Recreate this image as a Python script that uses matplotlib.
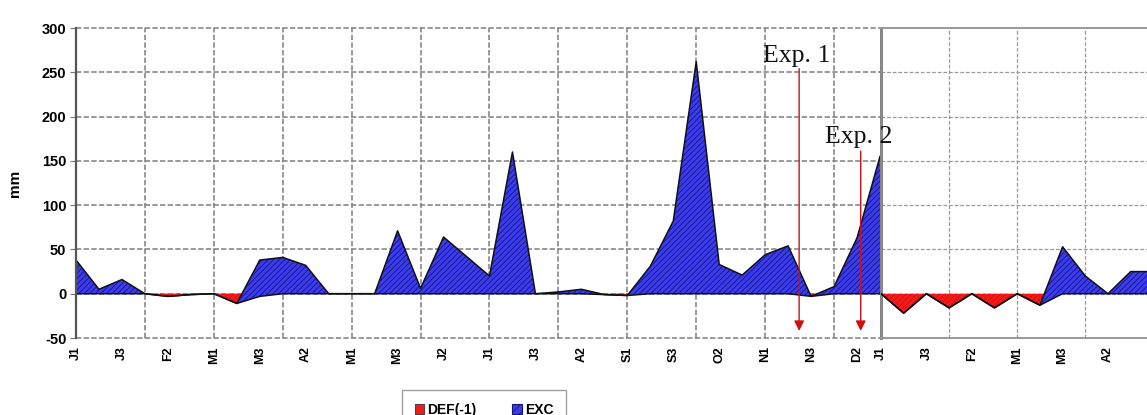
import matplotlib
matplotlib.use('Agg')
import matplotlib.pyplot as plt
import numpy as np
from matplotlib.patches import Patch

# ---- data (10-day periods) ----
decades_left = ['J1', 'J2', 'J3', 'F1', 'F2', 'F3', 'M1', 'M2', 'M3', 'A1', 'A2', 'A3',
                'M1', 'M2', 'M3', 'J1', 'J2', 'J3', 'J1', 'J2', 'J3', 'A1', 'A2', 'A3',
                'S1', 'S2', 'S3', 'O1', 'O2', 'O3', 'N1', 'N2', 'N3', 'D1', 'D2', 'D3']
exc_left = [38, 5, 16, 0, 0, 0, 0, 0, 41, 41, 32, 0, 0, 0, 71, 6, 64, 42,
            20, 160, 0, 2, 5, 0, 0, 31, 82, 262, 33, 21, 44, 54, 0, 8, 63, 155]
def_left = [0, 0, 0, 0, -3, -1, 0, -11, -3, 0, 0, 0, 0, 0, 0, 0, 0, 0,
            0, 0, 0, 0, 0, -1, -2, 0, 0, 0, 0, 0, 0, 0, -3, 0, 0, 0]

decades_right = ['J1', 'J2', 'J3', 'F1', 'F2', 'F3', 'M1', 'M2', 'M3', 'A1', 'A2', 'A3', 'M1']
exc_right = [0, 0, 0, 0, 0, 0, 0, 0, 53, 20, 0, 25, 25]
def_right = [0, -22, 0, -16, 0, -16, 0, -13, 0, 0, 0, 0, 0]

yticks = [-50, 0, 50, 100, 150, 200, 250, 300]
series_names = ['DEF(-1)', 'EXC']
exp_labels = ['Exp. 1', 'Exp. 2']
exp_pos = [31.48, 34.16]
exp_top = [254, 161]
exp_text_y = [262, 170]

BLUE = '#3b3bf0'
NAVY = '#15157a'
RED = '#f51a1a'
DRED = '#d01010'

plt.rcParams['font.family'] = ['Liberation Sans', 'DejaVu Sans']
plt.rcParams['hatch.linewidth'] = 0.6

W, H = 1147, 415
fig = plt.figure(figsize=(W / 100, H / 100), dpi=100)

axL = fig.add_axes([76 / W, (H - 338) / H, (880 - 76) / W, 310 / H])
axR = fig.add_axes([881 / W, (H - 338) / H, (W - 881) / W, 310 / H])
axL.set_zorder(2)
axR.set_zorder(1)
axL.patch.set_visible(False)


def draw(ax, exc, dfc):
    x = np.arange(len(exc))
    exc = np.array(exc, float)
    dfc = np.array(dfc, float)
    top = dfc + exc
    ax.fill_between(x, 0, dfc, facecolor=RED, edgecolor=DRED, hatch='//////', lw=0, zorder=2)
    ax.fill_between(x, dfc, top, facecolor=BLUE, edgecolor=NAVY, hatch='//////', lw=0, zorder=3)
    ax.plot(x, dfc, color='#111111', lw=1.1, zorder=4)
    ax.plot(x, top, color='#111111', lw=1.1, zorder=4)


GRID = dict(color='#7e7e7e', lw=1.1, linestyle=(0, (3.5, 1.5)), zorder=1)
GRID_R = dict(color='#9a9a9a', lw=0.9, linestyle=(0, (3, 1.5)), zorder=1)

# left axes
axL.set_xlim(0, len(decades_left) - 1)
axL.set_ylim(-50, 300)
for y in yticks:
    axL.axhline(y, clip_on=False, **GRID)
for xv in range(3, len(decades_left), 3):
    axL.axvline(xv, **GRID)
draw(axL, exc_left, def_left)
for s in ['top', 'bottom', 'right']:
    axL.spines[s].set_visible(False)
axL.spines['left'].set_color('#555555')
axL.spines['left'].set_linewidth(1.6)
axL.spines['left'].set_zorder(5)
axL.set_yticks(yticks)
axL.set_yticklabels([str(v) for v in yticks], fontsize=10.5, fontweight='bold')
axL.tick_params(axis='y', length=4, color='#777777', pad=3)
xt = list(range(0, len(decades_left), 2))
axL.set_xticks(xt)
axL.set_xticklabels([decades_left[i] for i in xt], rotation=90, fontsize=9,
                    fontweight='bold')
axL.tick_params(axis='x', length=0, pad=6)
axL.set_ylabel('mm', fontsize=11, fontweight='bold', labelpad=14)

# right axes
axR.set_xlim(0, (W - 881) / 22.7)
axR.set_ylim(-50, 300)
for y in yticks[1:-1]:
    axR.axhline(y, **GRID_R)
for xv in [3, 6, 9]:
    axR.axvline(xv, **GRID_R)
draw(axR, exc_right, def_right)
axR.spines['right'].set_visible(False)
axR.spines['left'].set_color('#888888')
axR.spines['left'].set_linewidth(2.2)
for s in ['top', 'bottom']:
    axR.spines[s].set_color('#999999')
    axR.spines[s].set_linewidth(1.4)
axR.set_yticks([])
xr = list(range(0, 11, 2))
axR.set_xticks(xr)
axR.set_xticklabels([decades_right[i] for i in xr], rotation=90, fontsize=9,
                    fontweight='bold')
axR.tick_params(axis='x', length=0, pad=6)

# experiment arrows
for lab, xp, yt, ty in zip(exp_labels, exp_pos, exp_top, exp_text_y):
    axL.annotate('', xy=(xp, -42), xytext=(xp, yt),
                 arrowprops=dict(arrowstyle='-|>,head_length=0.5,head_width=0.25',
                                 color='#d01010', lw=1.0, mutation_scale=12,
                                 shrinkA=0, shrinkB=0),
                 annotation_clip=False, zorder=6)
    axL.text(xp - 0.1, ty, lab, family='Liberation Serif', fontsize=18.5,
             ha='center', va='baseline', color='#111111', zorder=7, clip_on=False)

# legend
handles = [Patch(facecolor=RED, edgecolor='#444444', lw=0.8),
           Patch(facecolor=BLUE, edgecolor=NAVY, hatch='////', lw=0.8)]
leg = fig.legend(handles, series_names, loc='upper center',
                 bbox_to_anchor=(484 / W, 1 - 390 / H), ncol=2, frameon=True,
                 fancybox=False, edgecolor='#888888', borderaxespad=0,
                 prop={'weight': 'bold', 'size': 10, 'family': 'Liberation Sans'},
                 handlelength=0.7, handleheight=0.7, handletextpad=0.2,
                 columnspacing=2.6, borderpad=0.9)

fig.savefig('out.png', dpi=100)
